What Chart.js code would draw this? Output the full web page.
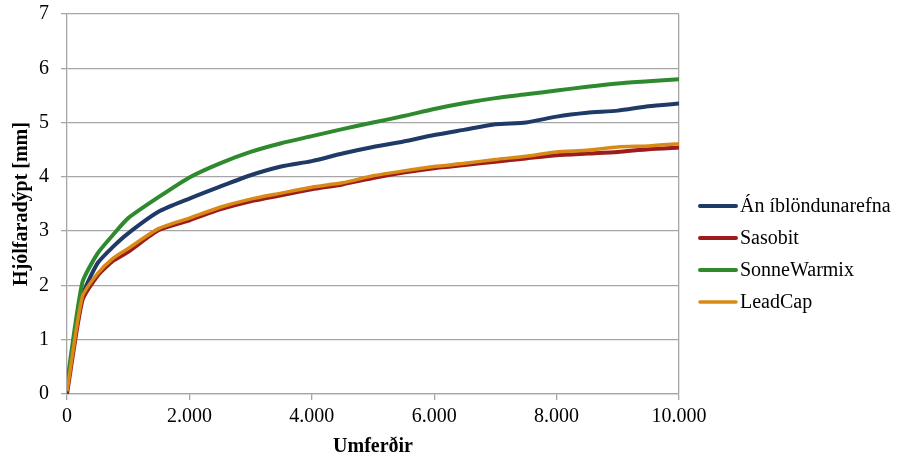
<!DOCTYPE html>
<html>
<head>
<meta charset="utf-8">
<script src="https://cdn.jsdelivr.net/npm/chart.js@4.4.1/dist/chart.umd.min.js"></script>
<style>
  body { margin: 0; background: #fff; }
  canvas { display: block; }
</style>
</head>
<body>
<canvas id="rutChart" width="898" height="459"></canvas>
<script>
// umferðir (fjöldi yfirferða)
var cycles = [0, 250, 500, 750, 1000, 1500, 2000, 2500, 3000, 3500, 4000, 4500,
              5000, 5500, 6000, 6500, 7000, 7500, 8000, 8500, 9000, 9500, 10000];

var anIblondunarefna = [0.10, 1.80, 2.41, 2.71, 2.96, 3.36, 3.60, 3.82, 4.03, 4.19, 4.29, 4.43,
                        4.55, 4.65, 4.77, 4.87, 4.97, 5.00, 5.11, 5.18, 5.22, 5.30, 5.35];
var sasobit = [0.00, 1.72, 2.18, 2.45, 2.62, 3.02, 3.20, 3.40, 3.55, 3.66, 3.77, 3.86,
               3.98, 4.08, 4.16, 4.22, 4.28, 4.34, 4.40, 4.43, 4.46, 4.51, 4.54];
var sonneWarmix = [0.20, 2.05, 2.59, 2.93, 3.24, 3.63, 3.99, 4.25, 4.46, 4.62, 4.75, 4.88,
                   5.00, 5.12, 5.25, 5.36, 5.45, 5.52, 5.59, 5.66, 5.72, 5.76, 5.80];
var leadCap = [0.05, 1.79, 2.22, 2.50, 2.68, 3.05, 3.24, 3.44, 3.59, 3.70, 3.81, 3.89,
               4.02, 4.11, 4.19, 4.25, 4.32, 4.38, 4.46, 4.49, 4.55, 4.57, 4.61];

var seriesNames = ["Án íblöndunarefna", "Sasobit", "SonneWarmix", "LeadCap"];
var seriesColors = ['#1f3a66', '#9c1c1c', '#2f8a2f', '#d98a16'];
var xTickLabels = ["0", "2.000", "4.000", "6.000", "8.000", "10.000"];

var gridGray = '#a6a6a6';
var serif = "'Liberation Serif', 'Times New Roman', serif";

var toPoints = function(vals) {
    return vals.map(function(v, i) { return {x: cycles[i], y: v}; });
};

var allSeries = [anIblondunarefna, sasobit, sonneWarmix, leadCap];
var datasets = allSeries.map(function(vals, i) {
    return {
        label: seriesNames[i],
        data: toPoints(vals),
        borderColor: seriesColors[i],
        backgroundColor: seriesColors[i],
        borderWidth: i === 3 ? 3.5 : 4,
        pointRadius: 0,
        tension: 0.2,
        order: 3 - i
    };
});

// legend to the right, drawn by hand so it sits where the original one does
var sideLegend = {
    id: 'sideLegend',
    afterDraw: function(chart) {
        var c = chart.ctx;
        c.save();
        c.font = '20px ' + serif;
        c.textBaseline = 'middle';
        c.fillStyle = '#000';
        chart.data.datasets.forEach(function(ds, i) {
            var y = 206 + i * 32;
            c.strokeStyle = ds.borderColor;
            c.lineWidth = ds.borderWidth;
            c.lineCap = 'round';
            c.beginPath();
            c.moveTo(700, y);
            c.lineTo(736, y);
            c.stroke();
            c.fillText(ds.label, 740, y + 1);
        });
        c.restore();
    }
};

var ctx = document.getElementById('rutChart').getContext('2d');
var myChart = new Chart(ctx, {
    type: 'line',
    data: { datasets: datasets },
    options: {
        responsive: false,
        animation: false,
        layout: { padding: { left: 0, right: 219, top: 14, bottom: 0 } },
        plugins: {
            legend: { display: false },
            tooltip: { enabled: false }
        },
        scales: {
            x: {
                type: 'linear',
                min: 0,
                max: 10000,
                afterFit: function(s) { s.height = 65; },
                ticks: {
                    stepSize: 2000,
                    color: '#000',
                    padding: 5,
                    font: { family: serif, size: 20 },
                    maxRotation: 0,
                    callback: function(v, i) { return xTickLabels[i]; }
                },
                grid: {
                    color: function(c) { return c.tick && c.tick.value === 10000 ? gridGray : 'rgba(0,0,0,0)'; },
                    tickColor: gridGray,
                    tickLength: 6,
                    lineWidth: 1.3
                },
                border: { color: gridGray, width: 1.3 },
                title: {
                    display: true,
                    text: 'Umferðir',
                    color: '#000',
                    font: { family: serif, size: 20, weight: 'bold' },
                    padding: { top: 0, bottom: 0 }
                }
            },
            y: {
                min: 0,
                max: 7,
                afterFit: function(s) {
                    s.width = 67;
                    s.paddingTop = 0;
                    s.paddingBottom = 0;
                },
                ticks: {
                    stepSize: 1,
                    color: '#000',
                    padding: 12,
                    font: { family: serif, size: 20 }
                },
                grid: {
                    color: gridGray,
                    tickColor: gridGray,
                    tickLength: 6,
                    lineWidth: 1.3
                },
                border: { color: gridGray, width: 1.3 },
                title: {
                    display: true,
                    text: 'Hjólfaradýpt [mm]',
                    color: '#000',
                    font: { family: serif, size: 20, weight: 'bold' },
                    padding: { top: 10, bottom: 0 }
                }
            }
        }
    },
    plugins: [sideLegend]
});
</script>
</body>
</html>
